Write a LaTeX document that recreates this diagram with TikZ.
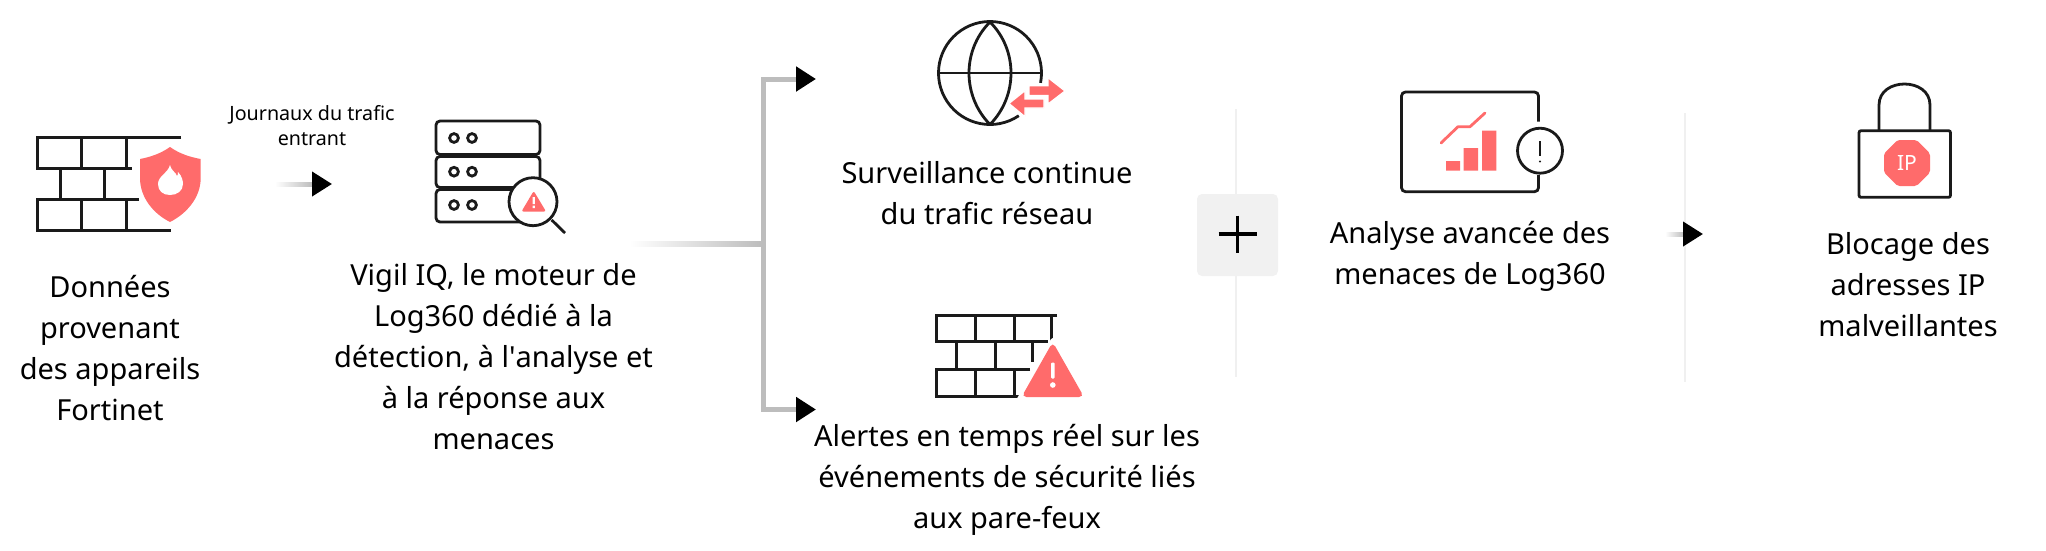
\documentclass[tikz,border=0pt]{standalone}
\usepackage{fontspec}
\setmainfont{Noto Sans}
\usetikzlibrary{arrows.meta}
\definecolor{ink}{HTML}{1A1A1A}
\definecolor{alert}{HTML}{FF6B6B}
\definecolor{bar}{HTML}{BDBDBD}
\definecolor{sep}{HTML}{F0F0F0}
\definecolor{plusbg}{HTML}{F1F1F1}
\tikzset{
  lbl/.style={align=center,inner sep=0pt,text=black,font=\fontsize{29}{41}\selectfont},
  smalllbl/.style={align=center,inner sep=0pt,text=black,font=\fontsize{19.7}{25.6}\selectfont},
  icon/.style={draw=ink,line width=3pt,line cap=butt,line join=miter},
  thinicon/.style={draw=ink,line width=2.8pt},
  redfill/.style={fill=alert,draw=none},
  headtip/.style={-{Triangle[color=black,length=20pt,width=24pt,sep=2pt]}},
  branch/.style={draw=bar,line width=5pt,headtip},
  stub/.style={draw=bar,line width=4pt,headtip},
  fade/.style={left color=white,right color=bar,draw=none},
  sepline/.style={draw=sep,line width=2pt},
}
\begin{document}
\begin{tikzpicture}[x=1pt,y=-1pt]
\useasboundingbox (0,0) rectangle (2046,550);

% separators
\coordinate (sepAtop) at (1236,109); \coordinate (sepAbot) at (1236,377);
\coordinate (sepBtop) at (1685,113); \coordinate (sepBbot) at (1685,382);
\draw[sepline] (sepAtop) -- (sepAbot);
\draw[sepline] (sepBtop) -- (sepBbot);

% wall 1
\draw[icon] (181,137) -- (37,137) -- (37,168) -- (132,168);
\draw[icon] (81.7,137) -- (81.7,168) (126,137) -- (126,168);
\draw[icon] (60,168) -- (60,199) (104.5,168) -- (104.5,199);
\draw[icon] (139,199) -- (37,199) -- (37,230) -- (171,230);
\draw[icon] (81.7,199) -- (81.7,230) (126,199) -- (126,230);
\fill[redfill] (170,147) .. controls (160,154) and (150,157) .. (140,159)
  -- (140,178) .. controls (140,198) and (154,214) .. (170,222)
  .. controls (186,214) and (200.7,198) .. (200.7,178) -- (200.7,159)
  .. controls (190,157) and (180,154) .. (170,147) -- cycle;
\fill[white] (170,165) .. controls (172,172) and (176,172) .. (177,176)
  .. controls (178,175) and (178,174) .. (178,172)
  .. controls (182,176) and (183,181) .. (183,184)
  .. controls (183,191) and (177,195) .. (170,195)
  .. controls (163,195) and (158,191) .. (158,184)
  .. controls (158,176) and (168,173) .. (170,165) -- cycle;
\node[lbl] (donnees) at (110,348.5) {Données\\provenant\\des appareils\\Fortinet};

% journaux arrow
\node[smalllbl] (journaux) at (312,125.5) {Journaux du trafic\\entrant};
\coordinate (a1start) at (275,182); \coordinate (a1mid) at (312,186);
\coordinate (a1from) at (312,184); \coordinate (a1tip) at (334,184);
\shade[fade] (a1start) rectangle (a1mid);
\draw[stub] (a1from) -- (a1tip);

% server
\foreach \t/\b/\c in {121/154.5/138,156.5/187.5/171.7,189.5/222/205}{
  \draw[thinicon,rounded corners=4pt] (436,\t) rectangle (540,\b);
  \draw[ink,line width=2.8pt] (454,\c) circle[radius=4.4pt] (472,\c) circle[radius=4.4pt];
}
\draw[thinicon,fill=white] (533,201.7) circle[radius=24pt];
\draw[thinicon] (551.7,220) -- (565,233);
\fill[redfill,rounded corners=2pt] (533.7,191) -- (546,211.5) -- (521.5,211.5) -- cycle;
\fill[white] (532.6,197) rectangle (534.8,204) (532.6,205.5) rectangle (534.8,208);
\node[lbl] (vigil) at (493.5,356.5) {Vigil IQ, le moteur de\\Log360 dédié à la\\détection, à l\textquotesingle analyse et\\à la réponse aux\\menaces};

% branch
\coordinate (brstart) at (630,241.5); \coordinate (brend) at (761,246.5);
\coordinate (junction) at (763,244);
\coordinate (tipTop) at (818,79); \coordinate (tipBot) at (818,409.5);
\shade[fade] (brstart) rectangle (brend);
\draw[branch] (junction) |- (tipTop);
\draw[branch] (junction) |- (tipBot);
\draw[draw=bar,line width=5pt] (brend) ++(0,-2.5) -- (junction);

% globe
\draw[thinicon] (1018.8,115.7) arc[start angle=-56,end angle=-371,radius=51.5pt];
\draw[thinicon] (939,73) -- (1041,73);
\draw[thinicon] (990,22) .. controls (962,50) and (962,96) .. (990,124.5);
\draw[thinicon] (990,22) .. controls (1018,50) and (1018,96) .. (990,124.5);
\fill[redfill,draw=white,line width=1.2pt] (1029,85.7) -- (1048,85.7) -- (1048,77.7) -- (1065,91) -- (1048,104) -- (1048,95.5) -- (1029,95.5) -- cycle;
\fill[redfill,draw=white,line width=1.2pt] (1044,99) -- (1025,99) -- (1025,90.7) -- (1009,103.5) -- (1025,116.7) -- (1025,108) -- (1044,108) -- cycle;
\node[lbl] (surv) at (987,193) {Surveillance continue\\du trafic réseau};

% wall 2
\draw[icon] (1057,315) -- (936.7,315) -- (936.7,341.7) -- (1048,341.7);
\draw[icon] (975,315) -- (975,341.7) (1014,315) -- (1014,341.7) (1051.7,315) -- (1051.7,341.7);
\draw[icon] (956.7,341.7) -- (956.7,369.3) (995,341.7) -- (995,369.3) (1032.7,341.7) -- (1032.7,362);
\draw[icon] (1030,369.3) -- (936.7,369.3) -- (936.7,396.7) -- (1022,396.7);
\draw[icon] (975,369.3) -- (975,396.7) (1014,369.3) -- (1014,396.7);
\fill[white,rounded corners=4pt] (1052.7,336) -- (1090,402) -- (1015,402) -- cycle;
\fill[redfill,rounded corners=5pt] (1052.7,342) -- (1084,397) -- (1021.5,397) -- cycle;
\fill[white,rounded corners=1pt] (1051,362.5) rectangle (1054.6,378.5);
\fill[white] (1052.8,385) circle[radius=2.8pt];
\node[lbl] (alertes) at (1007,480) {Alertes en temps réel sur les\\événements de sécurité liés\\aux pare-feux};

% plus
\node[fill=plusbg,draw=none,rounded corners=5pt,minimum width=81pt,minimum height=82pt,inner sep=0pt] (plus) at (1237.5,235) {};
\draw[draw=black,line width=3.4pt] (1218.5,234) -- (1257,234) (1237.7,215.5) -- (1237.7,253);

% analyse icon
\draw[thinicon,rounded corners=4pt] (1538.5,121.5) -- (1538.5,92) -- (1401.5,92) -- (1401.5,191.7) -- (1538.5,191.7) -- (1538.5,175);
\draw[draw=ink,line width=2.8pt] (1540,150.7) circle[radius=22.5pt];
\draw[ink,line width=1.6pt] (1540,141) -- (1540,156);
\fill[ink] (1540,161.5) circle[radius=1.2pt];
\fill[redfill] (1446,161) rectangle (1460,170.7) (1463.5,148) rectangle (1478,170.7) (1482,130.7) rectangle (1496.4,170.7);
\draw[draw=alert,line width=2.8pt,line cap=round,line join=round] (1441,143) -- (1458,126.7) -- (1470,126.7) -- (1485,113);
\node[lbl] (analyse) at (1470,256) {Analyse avancée des\\menaces de Log360};

% arrow 3
\coordinate (a3start) at (1665,232); \coordinate (a3mid) at (1684,236);
\coordinate (a3from) at (1683,234); \coordinate (a3tip) at (1705,234);
\shade[fade] (a3start) rectangle (a3mid);
\draw[stub] (a3from) -- (a3tip);

% lock
\draw[thinicon] (1879,130.7) -- (1879,105) .. controls (1879,77) and (1930,77) .. (1930,105) -- (1930,130.7);
\draw[thinicon,rounded corners=2pt] (1859,130.7) rectangle (1950.5,197.3);
\fill[redfill,rounded corners=2pt] (1897.5,140) -- (1916.5,140) -- (1930,153.5) -- (1930,172.5) -- (1916.5,186) -- (1897.5,186) -- (1884,172.5) -- (1884,153.5) -- cycle;
\node[text=white,inner sep=0pt,font=\bfseries\fontsize{21}{21}\selectfont] (ip) at (1907,163) {IP};
\node[lbl] (blocage) at (1908,285) {Blocage des\\adresses IP\\malveillantes};
\end{tikzpicture}
\end{document}
